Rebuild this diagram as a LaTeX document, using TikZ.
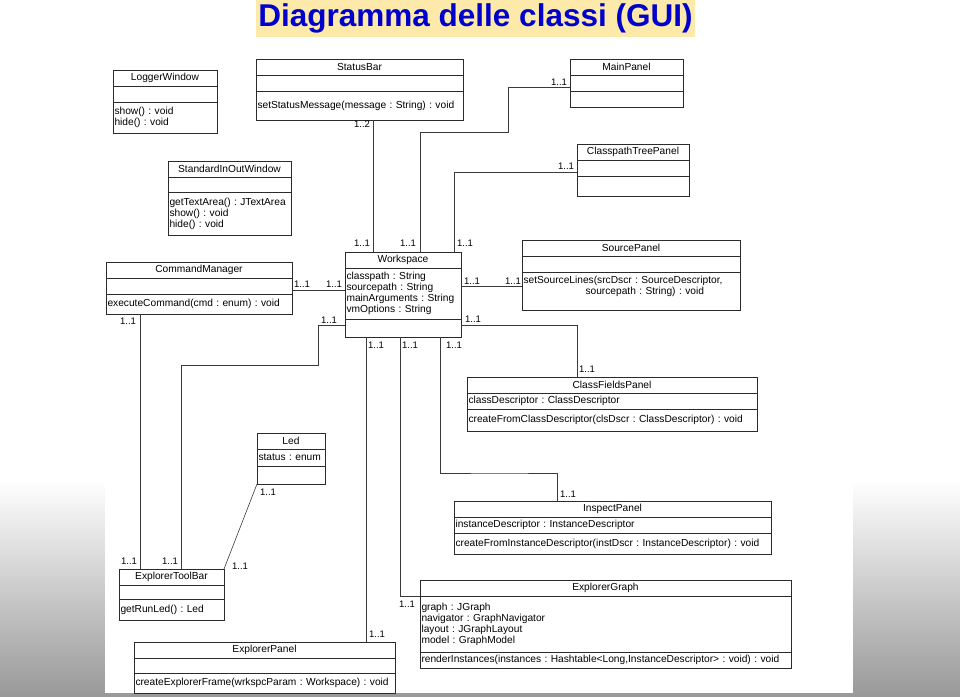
\documentclass[tikz,border=0pt]{standalone}
\usepackage{fontspec}
\setmainfont{Liberation Sans}
\usetikzlibrary{positioning}
\definecolor{titleBlue}{HTML}{0000CC}
\definecolor{titleCream}{HTML}{FDE9A9}
\definecolor{boxLine}{HTML}{2B2B2B}
\definecolor{wireGrey}{HTML}{3A3A3A}
\frenchspacing

\begin{document}
\begin{tikzpicture}[
  x=1pt, y=-1pt,
  every node/.style={font=\fontsize{10.2}{11}\selectfont, outer sep=0pt},
  cname/.style={draw=boxLine, line width=0.7pt, inner xsep=1.5pt, inner ysep=1pt, text width=#1pt, align=center, minimum height=16pt},
  cpart/.style 2 args={draw=boxLine, line width=0.7pt, inner xsep=1.5pt, inner ysep=1pt, text width=#1pt, align=left, minimum height=#2pt},
  mult/.style={font=\fontsize{9.5}{10}\selectfont, inner sep=0pt},
  e/.style={line width=0.6pt, color=wireGrey},
]
% page, grey fade at the bottom, white sheet
\useasboundingbox (0,0) rectangle (960,696);
\fill[white] (0,0) rectangle (960,696);
\shade[top color=white, bottom color=black!40] (0,480) rectangle (960,696);
\fill[white] (105,40) rectangle (853,693);

\node[fill=titleCream, text=titleBlue, font=\fontsize{31.5}{32}\selectfont\bfseries,
  inner xsep=2.5pt, inner ysep=0pt, minimum height=37pt] (title) at (475.5,18.5)
  {Diagramma delle classi (GUI)};

% Top row -- windows and bars
\node[cname=101, anchor=north west] (LW) at (113,70) {LoggerWindow};
\node[cpart={101}{16}, below=0pt of LW]  (LWa) {};
\node[cpart={101}{31}, below=0pt of LWa] (LWo) {show() : void\\hide() : void};

\node[cname=204, anchor=north west] (SB) at (256,59) {StatusBar};
\node[cpart={204}{16}, below=0pt of SB]  (SBa) {};
\node[cpart={204}{29}, below=0pt of SBa] (SBo) {setStatusMessage(message : String) : void};

\node[cname=110, anchor=north west] (MP) at (570,59) {MainPanel};
\node[cpart={110}{16}, below=0pt of MP]  (MPa) {};
\node[cpart={110}{16}, below=0pt of MPa] (MPo) {};

\node[cname=109, anchor=north west] (CP) at (577,144) {ClasspathTreePanel};
\node[cpart={109}{16}, below=0pt of CP]  (CPa) {};
\node[cpart={109}{20}, below=0pt of CPa] (CPo) {};

\node[cname=120, anchor=north west] (SW) at (168,161) {StandardInOutWindow};
\node[cpart={120}{15}, below=0pt of SW]  (SWa) {};
\node[cpart={120}{43}, below=0pt of SWa] (SWo) {getTextArea() : JTextArea\\show() : void\\hide() : void};

% Middle row -- Workspace and its neighbours
\node[cname=183, anchor=north west] (CM) at (106,262) {CommandManager};
\node[cpart={183}{16}, below=0pt of CM]  (CMa) {};
\node[cpart={183}{20}, below=0pt of CMa] (CMo) {executeCommand(cmd : enum) : void};

\node[cname=113, anchor=north west] (WS) at (345,252) {Workspace};
\node[cpart={113}{51}, below=0pt of WS]  (WSa) {classpath : String\\sourcepath : String\\mainArguments : String\\vmOptions : String};
\node[cpart={113}{18}, below=0pt of WSa] (WSo) {};

\node[cname=215, anchor=north west] (SP) at (522,240) {SourcePanel};
\node[cpart={215}{16}, below=0pt of SP]  (SPa) {};
\node[cpart={215}{38}, below=0pt of SPa] (SPo) {setSourceLines(srcDscr : SourceDescriptor,\\\hspace*{62pt}sourcepath : String) : void\\\mbox{}};

\node[cname=287, anchor=north west] (CF) at (467,377) {ClassFieldsPanel};
\node[cpart={287}{16}, below=0pt of CF]  (CFa) {classDescriptor : ClassDescriptor};
\node[cpart={287}{22}, below=0pt of CFa] (CFo) {createFromClassDescriptor(clsDscr : ClassDescriptor) : void};

% Bottom row -- explorer classes
\node[cname=65, anchor=north west] (LED) at (257,433) {Led};
\node[cpart={65}{17}, below=0pt of LED]  (LEDa) {status : enum};
\node[cpart={65}{18}, below=0pt of LEDa] (LEDo) {};

\node[cname=314, anchor=north west] (IP) at (454,501) {InspectPanel};
\node[cpart={314}{16}, below=0pt of IP]  (IPa) {instanceDescriptor : InstanceDescriptor};
\node[cpart={314}{21}, below=0pt of IPa] (IPo) {createFromInstanceDescriptor(instDscr : InstanceDescriptor) : void};

\node[cname=102, anchor=north west] (TB) at (119,569) {ExplorerToolBar};
\node[cpart={102}{14}, below=0pt of TB]  (TBa) {};
\node[cpart={102}{21}, below=0pt of TBa] (TBo) {getRunLed() : Led};

\node[cname=368, anchor=north west] (EG) at (420,580) {ExplorerGraph};
\node[cpart={368}{56}, below=0pt of EG]  (EGa) {graph : JGraph\\navigator : GraphNavigator\\layout : JGraphLayout\\model : GraphModel};
\node[cpart={368}{16}, below=0pt of EGa] (EGo) {renderInstances(instances : Hashtable<Long,InstanceDescriptor> : void) : void};

\node[cname=258, anchor=north west] (EP) at (134,642) {ExplorerPanel};
\node[cpart={258}{15}, below=0pt of EP]  (EPa) {};
\node[cpart={258}{20}, below=0pt of EPa] (EPo) {createExplorerFrame(wrkspcParam : Workspace) : void};

% Associations
\draw[e] ([xshift=117]SBo.south west) -- ([xshift=28]WS.north west);
\draw[e] ([yshift=-28]MP.north west) -| (508,132) -| ([xshift=75]WS.north west);
\draw[e] ([yshift=-28]CP.north west) -| ([xshift=109]WS.north west);
\draw[e] ([yshift=-28]CM.north east) -- ([yshift=-38]WS.north west);
\draw[e] ([yshift=-34]WS.north east) -- ([yshift=-46]SP.north west);
\draw[e] ([yshift=-73]WS.north east) -| ([xshift=110]CF.north west);
\draw[e] ([yshift=-73]WS.north west) -| (318,365) -| ([xshift=62]TB.north west);
\draw[e] ([xshift=34]CMo.south west) -- ([xshift=21]TB.north west);
\draw[e] (LEDo.south west) -- (TB.north east);
\draw[e] ([xshift=21]WSo.south west) -- ([xshift=232]EP.north west);
\draw[e] ([xshift=55]WSo.south west) |- ([yshift=-16]EG.north west);
\draw[e] ([xshift=95]WSo.south west) |- (500,473) -| ([xshift=103]IP.north west);

% Multiplicities
\node[mult] (m1)  at (362,124) {1..2};
\node[mult] (m2)  at (362,243) {1..1};
\node[mult] (m3)  at (559,82)  {1..1};
\node[mult] (m4)  at (408,243) {1..1};
\node[mult] (m5)  at (566,166) {1..1};
\node[mult] (m6)  at (465,243) {1..1};
\node[mult] (m7)  at (302,284) {1..1};
\node[mult] (m8)  at (334,284) {1..1};
\node[mult] (m9)  at (472,281) {1..1};
\node[mult] (m10) at (513,281) {1..1};
\node[mult] (m11) at (473,319) {1..1};
\node[mult] (m12) at (587,369) {1..1};
\node[mult] (m13) at (329,320) {1..1};
\node[mult] (m14) at (170,561) {1..1};
\node[mult] (m15) at (128,321) {1..1};
\node[mult] (m16) at (129,561) {1..1};
\node[mult] (m17) at (268,492) {1..1};
\node[mult] (m18) at (240,566) {1..1};
\node[mult] (m19) at (376,345) {1..1};
\node[mult] (m20) at (377,634) {1..1};
\node[mult] (m21) at (410,345) {1..1};
\node[mult] (m22) at (407,604) {1..1};
\node[mult] (m23) at (454,345) {1..1};
\node[mult] (m24) at (568,494) {1..1};
\end{tikzpicture}
\end{document}
